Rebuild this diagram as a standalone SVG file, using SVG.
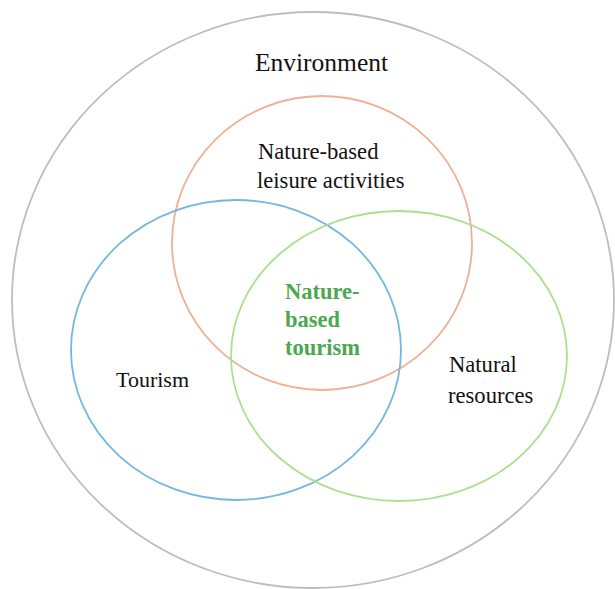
<svg xmlns="http://www.w3.org/2000/svg" width="615" height="589" viewBox="0 0 615 589">
  <style>
    .ring { fill: none; stroke-width: 1.8; }
    .label { font-family: "Liberation Serif", "Times New Roman", serif; font-size: 22px; fill: #111; }
    .title { font-size: 25.5px; }
    .mid { font-size: 22.6px; }
    .core { font-family: "Liberation Serif", "Times New Roman", serif; font-size: 22.5px; font-weight: bold; fill: #4aa84e; }
  </style>
  <rect width="615" height="589" fill="#fff"/>

  <!-- Outer set: Environment -->
  <g id="environment">
    <ellipse class="ring" cx="313" cy="300" rx="301" ry="288" stroke="#bdbdbd"/>
    <text class="label title" x="321.5" y="71" text-anchor="middle">Environment</text>
  </g>

  <!-- Nature-based leisure activities -->
  <g id="leisure">
    <ellipse class="ring" cx="322" cy="243" rx="150" ry="147" stroke="#eeb193"/>
    <text class="label mid" x="258" y="159">Nature-based</text>
    <text class="label mid" x="257" y="188">leisure activities</text>
  </g>

  <!-- Tourism -->
  <g id="tourism">
    <ellipse class="ring" cx="236" cy="350" rx="165" ry="150" stroke="#72b8df"/>
    <text class="label" x="116" y="387">Tourism</text>
  </g>

  <!-- Natural resources -->
  <g id="natural-resources">
    <ellipse class="ring" cx="399" cy="356" rx="168" ry="145" stroke="#ace08f"/>
    <text class="label mid" x="449" y="372">Natural</text>
    <text class="label mid" x="448" y="403">resources</text>
  </g>

  <!-- Shared centre: Nature-based tourism -->
  <g id="nature-based-tourism">
    <text class="core" x="285" y="299">Nature-</text>
    <text class="core" x="285" y="327">based</text>
    <text class="core" x="285" y="355">tourism</text>
  </g>
</svg>
